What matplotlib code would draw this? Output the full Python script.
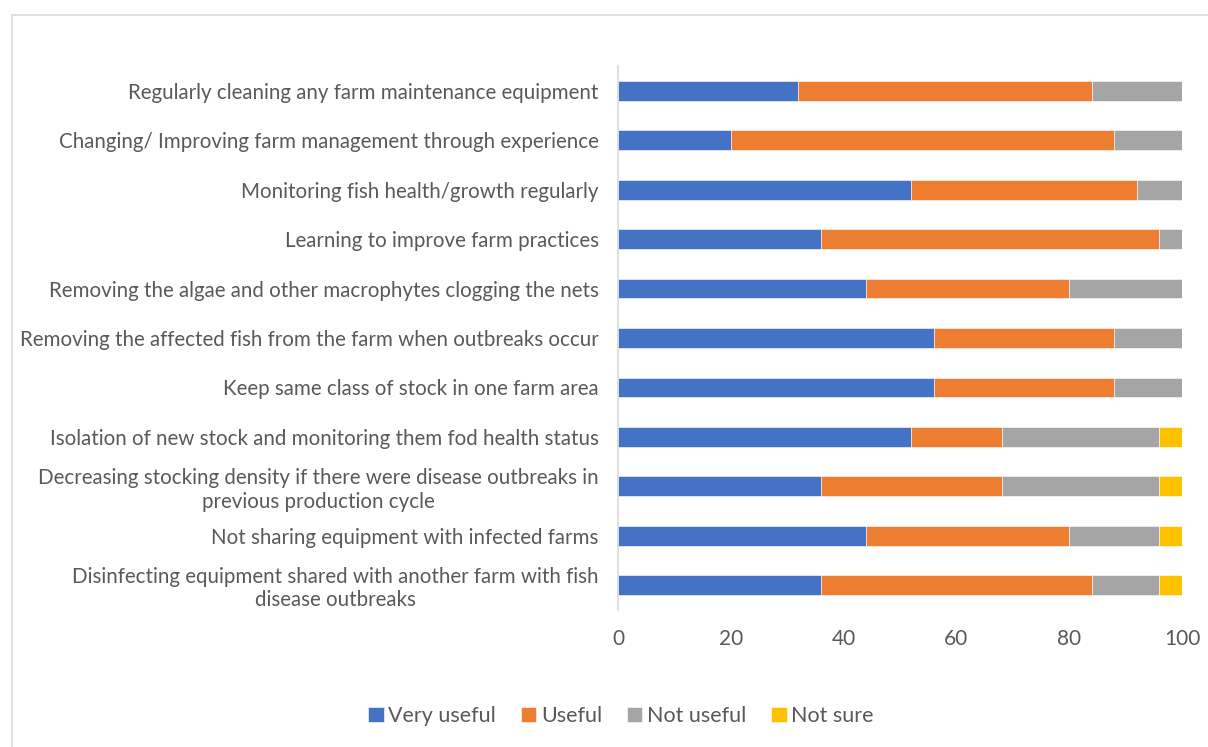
import matplotlib.pyplot as plt
from matplotlib.patches import Rectangle
import numpy as np

plt.rcParams['font.family'] = ['Lato', 'DejaVu Sans']

# practices, top to bottom as they appear on the chart
practices = [
    "Regularly cleaning any farm maintenance equipment",
    "Changing/ Improving farm management through experience",
    "Monitoring fish health/growth regularly",
    "Learning to improve farm practices",
    "Removing the algae and other macrophytes clogging the nets",
    "Removing the affected fish from the farm when outbreaks occur",
    "Keep same class of stock in one farm area",
    "Isolation of new stock and monitoring them fod health status",
    "Decreasing stocking density if there were disease outbreaks in\nprevious production cycle",
    "Not sharing equipment with infected farms",
    "Disinfecting equipment shared with another farm with fish\ndisease outbreaks",
]

# percent of respondents per answer
very_useful = [32, 20, 52, 36, 44, 56, 56, 52, 36, 44, 36]
useful = [52, 68, 40, 60, 36, 32, 32, 16, 32, 36, 48]
not_useful = [16, 12, 8, 4, 20, 12, 12, 28, 28, 16, 12]
not_sure = [0, 0, 0, 0, 0, 0, 0, 4, 4, 4, 4]

series = [
    ("Very useful", very_useful, "#4472C4"),
    ("Useful", useful, "#ED7D31"),
    ("Not useful", not_useful, "#A5A5A5"),
    ("Not sure", not_sure, "#FFC000"),
]

fig = plt.figure(figsize=(12.08, 7.47), dpi=100)
ax = fig.add_axes([618 / 1208, 1 - 610 / 747, 564 / 1208, 544 / 747])

# light frame around the chart area
fig.patches.append(Rectangle((12 / 1208, -0.05), 1.1, 1 - 15 / 747 + 0.05,
                             transform=fig.transFigure, fill=False,
                             edgecolor="#D9D9D9", linewidth=1.2))

y = np.arange(len(practices))
left = np.zeros(len(practices))
for name, vals, color in series:
    vals = np.array(vals)
    ax.barh(y, vals, left=left, height=0.4, color=color, label=name,
            edgecolor="white", linewidth=0.4)
    left += vals

ax.set_ylim(len(practices) - 0.5, -0.5)
ax.set_xlim(0, 100)
ax.set_xticks([0, 20, 40, 60, 80, 100])
ax.set_yticks(y)
ax.set_yticklabels(practices, multialignment="center")
ax.tick_params(axis="both", length=0, colors="#595959")
ax.tick_params(axis="y", pad=14, labelsize=14.8)
ax.tick_params(axis="x", pad=14, labelsize=15)

for side in ["top", "right", "bottom"]:
    ax.spines[side].set_visible(False)
ax.spines["left"].set_color("#D9D9D9")
ax.spines["left"].set_linewidth(1.2)

fig.legend(loc="center", bbox_to_anchor=(621 / 1208, 1 - 716 / 747), ncol=4,
           frameon=False, fontsize=15.5, handlelength=0.72, handleheight=0.72,
           handletextpad=0.22, columnspacing=1.15, labelcolor="#595959")

fig.savefig("out.png", dpi=100)
